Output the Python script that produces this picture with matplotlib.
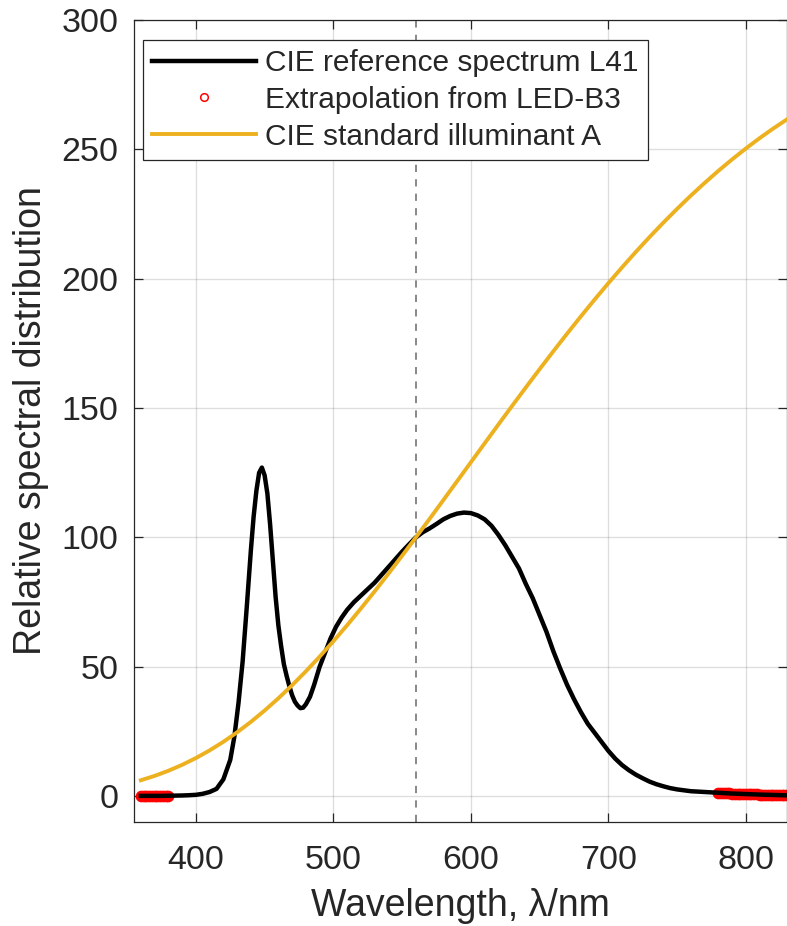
import numpy as np
import matplotlib.pyplot as plt

plt.rcParams["font.family"] = ["Liberation Sans", "DejaVu Sans"]

# CIE reference spectrum L41
wl_l41 = [360, 365, 370, 375, 380, 385, 390, 395, 400, 405, 410, 415, 420, 425,
          428, 431, 434, 437, 440, 442, 444, 446, 448, 450, 452, 454, 456, 458,
          460, 462, 464, 466, 468, 470, 472, 474, 476, 478, 480, 483, 486, 490,
          494, 498, 502, 506, 510, 515, 520, 525, 530, 535, 540, 545, 550, 555,
          560, 565, 570, 575, 580, 585, 590, 595, 600, 605, 610, 615, 620, 625,
          630, 635, 640, 645, 650, 655, 660, 665, 670, 675, 680, 685, 690, 695,
          700, 705, 710, 715, 720, 725, 730, 735, 740, 745, 750, 760, 770, 780,
          790, 800, 810, 820, 830]
l41 = [0.1, 0.1, 0.1, 0.1, 0.15, 0.2, 0.25, 0.35, 0.5, 0.9, 1.6, 2.8, 6.5, 14,
       23, 36, 52, 73, 95, 108, 118, 125, 127, 124, 117, 105, 91, 77,
       66, 58, 51, 46.5, 42.5, 39, 36.5, 35, 34, 34.2, 35.5, 38.4, 43, 50,
       55.5, 61, 65.5, 69, 72, 75, 77.5, 80, 82.5, 85.5, 88.5, 91.5, 94.5, 97.3,
       100, 102, 103.5, 105.2, 107, 108.3, 109.2, 109.6, 109.4, 108.5, 107, 104.5, 101, 97,
       92.5, 88, 82, 76.5, 70, 63.5, 56, 49.3, 43, 37.5, 32.5, 28, 24.5, 21,
       17.5, 14.5, 12, 10, 8.3, 6.9, 5.6, 4.6, 3.8, 3.1, 2.6, 1.9, 1.6, 1.3,
       1.0, 0.8, 0.6, 0.45, 0.3]

# extrapolated ends (from LED-B3)
wl_ext = [360, 362, 364, 366, 368, 370, 372, 374, 376, 378, 380,
          780, 782, 784, 786, 788, 790, 792, 794, 796, 798, 800, 802, 804, 806,
          808, 810, 812, 814, 816, 818, 820, 822, 824, 826, 828, 830]
ext = [0.1, 0.1, 0.1, 0.1, 0.1, 0.1, 0.1, 0.12, 0.13, 0.14, 0.15,
       1.3, 1.24, 1.18, 1.12, 1.06, 1.0, 0.96, 0.92, 0.88, 0.84, 0.8, 0.76, 0.72, 0.68,
       0.64, 0.6, 0.57, 0.54, 0.51, 0.48, 0.45, 0.42, 0.39, 0.36, 0.33, 0.3]

# CIE standard illuminant A
wl_a = list(range(360, 831, 10))
ill_a = [6.14, 7.82, 9.80, 12.09, 14.71, 17.68, 21.00, 24.67, 28.70, 33.09,
         37.81, 42.87, 48.24, 53.91, 59.86, 66.06, 72.50, 79.13, 85.95, 92.91,
         100.0, 107.18, 114.44, 121.73, 129.04, 136.35, 143.62, 150.84, 157.98, 165.03,
         171.96, 178.77, 185.43, 191.93, 198.26, 204.41, 210.37, 216.12, 221.67, 227.00,
         232.12, 237.01, 241.68, 246.12, 250.33, 254.32, 258.08, 261.62]

fg = "#262626"

fig = plt.figure(figsize=(7.87, 9.26), dpi=100)
ax = fig.add_axes([134/787, 104/926, 653.5/787, 802/926])

ax.plot(wl_ext, ext, "o", mfc="none", mec="red", ms=6, mew=2.4, zorder=2)
l_ref, = ax.plot(wl_l41, l41, color="black", lw=3.2, zorder=3)
l_ext, = ax.plot([], [], "o", mfc="none", mec="red", ms=5.5, mew=1.1)
l_a, = ax.plot(wl_a, ill_a, color="#EDB120", lw=2.8, zorder=4)
ax.axvline(560, color="#7f7f7f", ls="--", lw=1.3, dashes=(4, 4), zorder=1)

ax.set_xlim(355, 830.3)
ax.set_ylim(-10, 300)
ax.set_xticks([400, 500, 600, 700, 800])
ax.set_yticks([0, 50, 100, 150, 200, 250, 300])
ax.grid(True, color="#262626", alpha=0.15, lw=1)
ax.set_axisbelow(True)
ax.tick_params(direction="in", length=6.5, width=0.9, top=True, right=True,
               labelsize=24.5, colors=fg)
ax.tick_params(axis="x", pad=16.5)
ax.tick_params(axis="y", pad=11)
for s in ax.spines.values():
    s.set_color(fg)
    s.set_linewidth(0.9)

ax.set_xlabel("Wavelength, λ/nm", fontsize=27, color=fg, labelpad=9)
ax.set_ylabel("Relative spectral distribution", fontsize=27, color=fg, labelpad=9)

leg = ax.legend([l_ref, l_ext, l_a],
                ["CIE reference spectrum L41", "Extrapolation from LED-B3", "CIE standard illuminant A"],
                loc="upper left", bbox_to_anchor=(9/653.5, 782/802), borderaxespad=0,
                fontsize=21.5, handlelength=3.5, handletextpad=0.3, labelspacing=0.3,
                borderpad=0.3, fancybox=False, framealpha=1, edgecolor=fg)
leg.get_frame().set_linewidth(0.9)
for t in leg.get_texts():
    t.set_color(fg)

fig.savefig("out.png", dpi=100)
